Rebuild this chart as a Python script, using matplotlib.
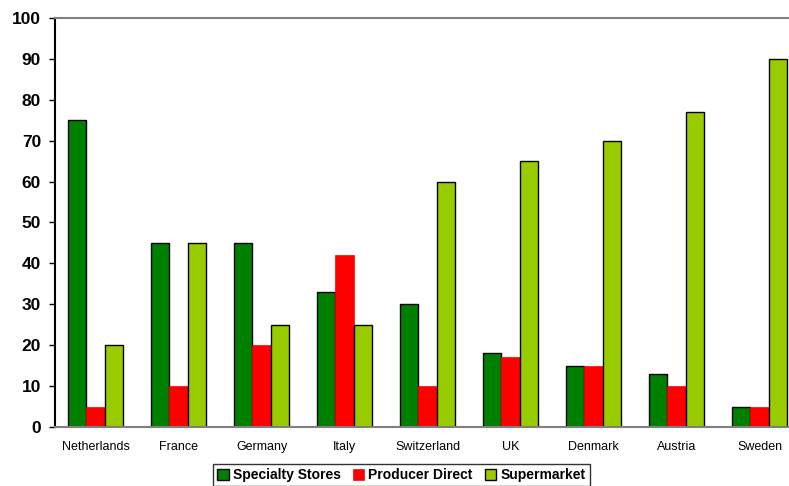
import matplotlib.pyplot as plt
import numpy as np

plt.rcParams['font.family'] = ['Liberation Sans', 'DejaVu Sans']

countries = ['Netherlands', 'France', 'Germany', 'Italy', 'Switzerland',
             'UK', 'Denmark', 'Austria', 'Sweden']
specialty = [75, 45, 45, 33, 30, 18, 15, 13, 5]
producer = [5, 10, 20, 42, 10, 17, 15, 10, 5]
supermarket = [20, 45, 25, 25, 60, 65, 70, 77, 90]

fig = plt.figure(figsize=(7.89, 4.86), dpi=100)
# plot area runs a little past the right edge of the figure
ax = fig.add_axes([55 / 789, 59 / 486, 747 / 789, 409 / 486])

x = np.arange(len(countries))
w = 0.222
ax.bar(x - w, specialty, w, color='#008000', edgecolor='black', linewidth=1,
       label='Specialty Stores')
ax.bar(x, producer, w, color='#ff0000', edgecolor='#ff0000', linewidth=0.5,
       label='Producer Direct')
ax.bar(x + w, supermarket, w, color='#99cc00', edgecolor='black', linewidth=1,
       label='Supermarket')

ax.set_xlim(-0.49, 8.51)
ax.set_ylim(0, 100)
ax.set_yticks(range(0, 101, 10))
ax.set_xticks(x)
ax.set_xticklabels(countries, fontsize=9)
ax.tick_params(axis='x', length=0, pad=10)
ax.tick_params(axis='y', length=4, width=1, labelsize=12.5, pad=6)
for lbl in ax.get_yticklabels():
    lbl.set_fontweight('bold')

ax.spines['left'].set_color('black')
ax.spines['bottom'].set_color('#808080')
ax.spines['top'].set_color('#808080')
ax.spines['right'].set_visible(False)
for s in ['left', 'bottom', 'top']:
    ax.spines[s].set_linewidth(1.5)

leg = fig.legend(loc='upper center', bbox_to_anchor=(0.509, 0.045), ncol=3,
                 frameon=True, fancybox=False, edgecolor='black',
                 prop={'weight': 'bold', 'size': 10},
                 handlelength=0.8, handleheight=0.8, handletextpad=0.3,
                 columnspacing=0.9, borderpad=0.3, borderaxespad=0)
leg.get_frame().set_linewidth(1)

fig.savefig('out.png', dpi=100)
